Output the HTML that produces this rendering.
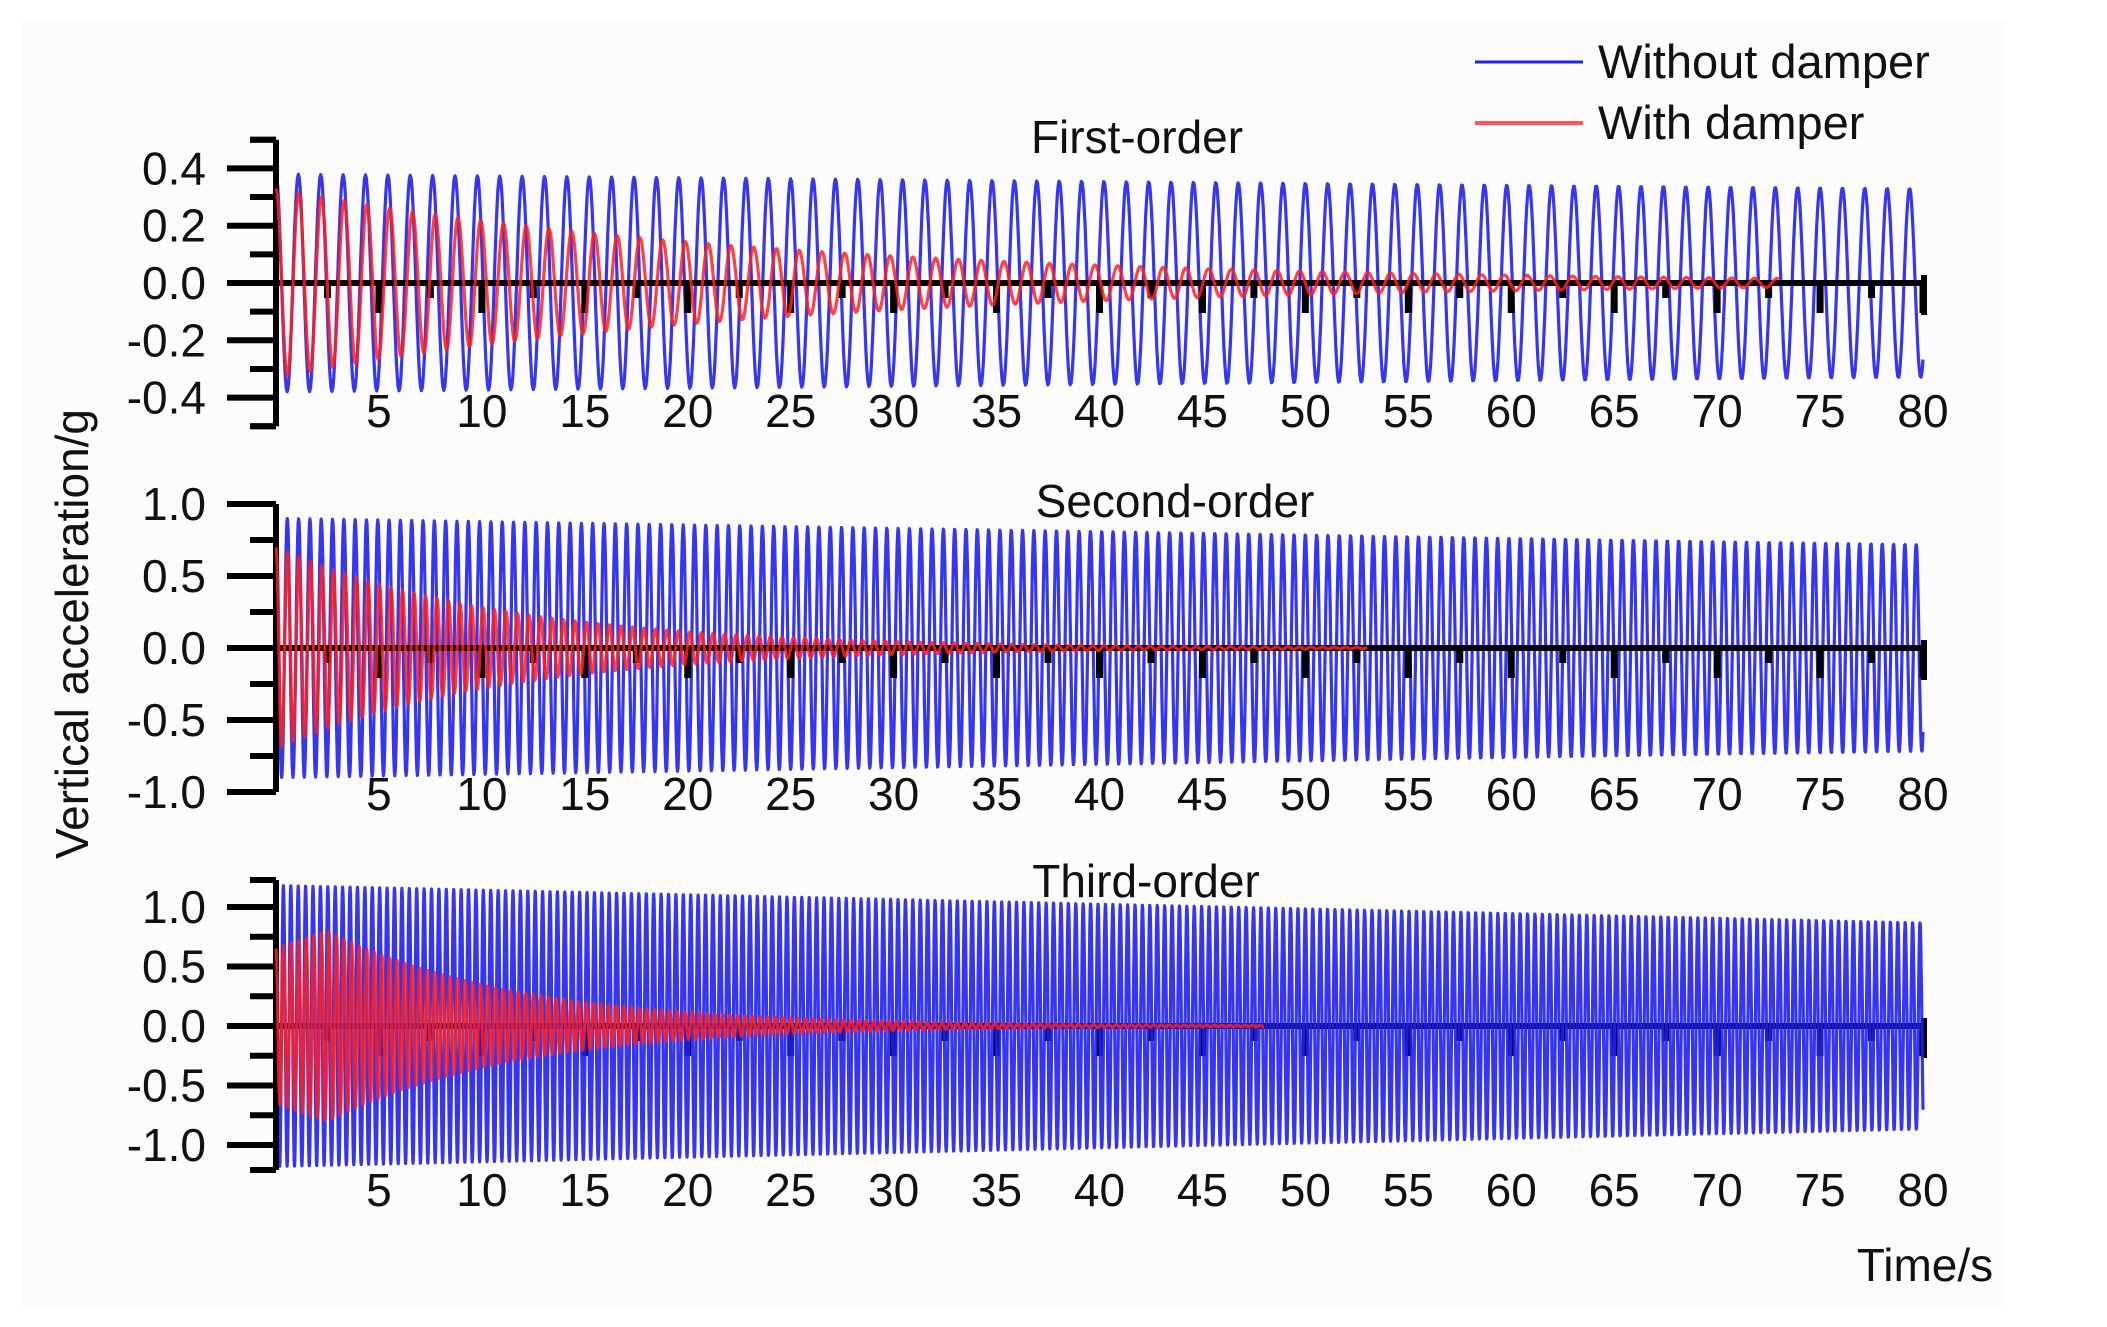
<!DOCTYPE html>
<html><head><meta charset="utf-8"><style>
html,body{margin:0;padding:0;background:#fff;}
svg{display:block;font-family:"Liberation Sans",Arial,sans-serif;}
</style></head><body>
<svg id="s" width="2107" height="1327" viewBox="0 0 2107 1327" xmlns="http://www.w3.org/2000/svg">
<rect x="0" y="0" width="2107" height="1327" fill="#ffffff"/>
<rect x="22" y="20" width="1983" height="1287" fill="#fcfcfc"/>
<g id="ax0" stroke="#000" stroke-width="6" fill="none"></g>
<g id="sig"></g>
<g id="ax" stroke="#000" stroke-width="6" fill="none"></g>
<g id="red"></g>
<g id="txt" fill="#111" font-size="46" text-anchor="middle"></g>
<text x="1137" y="153" font-size="46" text-anchor="middle" fill="#111">First-order</text>
<text x="1175" y="517" font-size="46" text-anchor="middle" fill="#111">Second-order</text>
<text x="1146" y="897" font-size="46" text-anchor="middle" fill="#111">Third-order</text>
<line x1="1475" y1="62" x2="1583" y2="62" stroke="#2222ee" stroke-width="3"/>
<line x1="1475" y1="123" x2="1583" y2="123" stroke="#ff5555" stroke-width="4"/>
<text x="1598" y="78" font-size="47" fill="#111">Without damper</text>
<text x="1598" y="139" font-size="47" fill="#111">With damper</text>
<text x="0" y="0" font-size="46" fill="#111" text-anchor="middle" transform="translate(88,634) rotate(-90)">Vertical acceleration/g</text>
<text x="1925" y="1281" font-size="46" fill="#111" text-anchor="middle">Time/s</text>
</svg>
<script>
(function(){
var NS="http://www.w3.org/2000/svg";
var X0=276,X1=1923,PX=(X1-X0)/80;
var panels=[
 {z:283,u:286.5,top:0.5,bot:-0.5,step:0.1,lab:[0.4,0.2,0,-0.2,-0.4],ly:427,
  blue:{f:0.92,a:function(t){return 0.38-0.05*t/80;},ph:0},
  red:{f:0.905,a:function(t){return 0.33*Math.exp(-t/24);},end:73,ph:0}},
 {z:648,u:144,top:1,bot:-1,step:0.25,lab:[1,0.5,0,-0.5,-1],ly:810,
  blue:{f:1.82,a:function(t){return 0.9-0.18*t/80;},ph:0},
  red:{f:1.79,a:function(t){return 0.7*Math.exp(-t/11);},end:53,ph:0}},
 {z:1026,u:119,top:1.3,bot:-1.2,step:0.25,lab:[1,0.5,0,-0.5,-1],ly:1206,ytop:880,ybot:1170,
  blue:{f:2.78,a:function(t){return 1.18-0.31*t/80;},ph:0},
  red:{f:2.72,a:function(t){return t<2.5?0.65+0.15*t/2.5:0.8*Math.exp(-(t-2.5)/9);},end:48,ph:0}}
];
function el(n,a,p){var e=document.createElementNS(NS,n);for(var k in a)e.setAttribute(k,a[k]);if(p)p.appendChild(e);return e;}
var sig=document.getElementById('sig'),ax=document.getElementById('ax'),ax0=document.getElementById('ax0'),red=document.getElementById('red'),txt=document.getElementById('txt');
panels.forEach(function(p,pi){
  function Y(v){return p.z-v*p.u;}
  function path(s,end,col,w,op,g){
    var n=Math.ceil(end*s.f*24),d="";
    for(var i=0;i<=n;i++){var t=end*i/n;var v=s.a(t)*Math.cos(2*Math.PI*s.f*t+s.ph);
      d+=(i?"L":"M")+(X0+t*PX).toFixed(1)+" "+Y(v).toFixed(1);}
    el('path',{d:d,stroke:col,'stroke-width':w,fill:'none','stroke-opacity':op,'stroke-linejoin':'round'},g);
  }
  var tg = pi==2?ax0:ax;
  path(p.blue,80,'#2020f0',3.2,0.9,sig);
  var yt=p.ytop!==undefined?p.ytop:Y(p.top),yb=p.ybot!==undefined?p.ybot:Y(p.bot);
  el('line',{x1:X0,y1:yt,x2:X0,y2:yb},ax);
  var nmin=Math.round((p.top)/p.step),nmax=Math.round((-p.bot)/p.step);
  for(var k=-nmax;k<=nmin;k++){var v=k*p.step;var y=Y(v);if(y<yt-1||y>yb+1)continue;
    var major=Math.abs(k)%2===0;
    el('line',{x1:X0-(major?49:26),y1:y,x2:X0,y2:y},ax);}
  el('line',{x1:X0-26,y1:yt,x2:X0,y2:yt},ax);
  el('line',{x1:X0-26,y1:yb,x2:X0,y2:yb},ax);
  el('line',{x1:X0,y1:p.z,x2:X1+3,y2:p.z},tg);
  for(var t=2.5;t<=80.01;t+=2.5){var x=X0+t*PX;var mj=Math.abs(t%5)<0.01;
    el('line',{x1:x,y1:p.z,x2:x,y2:p.z+(mj?30:15),'stroke-width':7},tg);}
  el('line',{x1:X1+1,y1:p.z-8,x2:X1+1,y2:p.z+32},tg);
  path(p.red,p.red.end,'#ff2020',3.2,0.85,red);
  p.lab.forEach(function(v){var e=el('text',{x:206,y:Y(v)+16,'text-anchor':'end'},txt);e.textContent=v.toFixed(1);});
  for(var t=5;t<=80;t+=5){var e=el('text',{x:X0+t*PX,y:p.ly},txt);e.textContent=t;}
});
})();
</script>
</body></html>
